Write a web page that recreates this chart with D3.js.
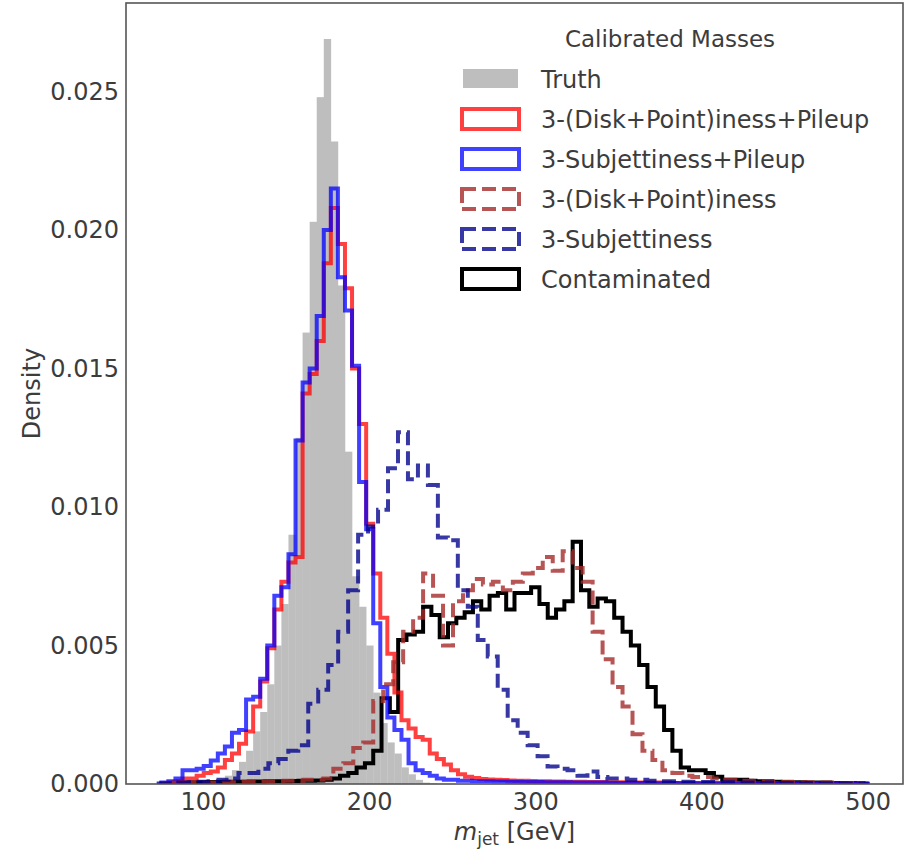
<!DOCTYPE html>
<html>
<head>
<meta charset="utf-8">
<script src="https://cdn.jsdelivr.net/npm/d3@7"></script>
<style>
body { margin: 0; background: #fff; }
text { font-family: "DejaVu Sans", "Liberation Sans", Arial, sans-serif; }
</style>
</head>
<body>
<svg id="chart" width="907" height="850"></svg>
<script>
// values are densities x 1e-3, bins given as start / width in GeV

var xTicks = [100, 200, 300, 400, 500];
var yTicks = [0, 5, 10, 15, 20, 25];
var yTickLabels = ["0.000", "0.005", "0.010", "0.015", "0.020", "0.025"];

var truthBins = {start: 75, width: 4.25};
var truth = [0, 0, 0, 0, 0.01, 0.02, 0.05, 0.08, 0.15, 0.3,
    0.5, 0.8, 1.2, 1.9, 2.6, 3.6, 5.0, 6.5, 9.0, 12.5,
    16.3, 20.3, 24.8, 26.9, 23.2, 18.0, 12.0, 7.5, 6.4, 5.0,
    3.3, 2.2, 1.5, 1.1, 0.6, 0.35, 0.15, 0.05, 0.02];

var dpPileupBins = {start: 75, width: 4.25};
var dpPileup = [0.03, 0.05, 0.1, 0.2, 0.2, 0.3, 0.4, 0.45, 0.6, 0.87,
    1.1, 1.45, 1.9, 2.8, 3.7, 4.9, 6.3, 7.3, 8.0, 8.2,
    14.1, 14.8, 16.0, 18.8, 20.8, 19.5, 17.9, 15.0, 13.0, 9.4,
    7.6, 6.0, 4.7, 3.3, 2.3, 2.0, 1.7, 1.6, 1.1, 0.9,
    0.7, 0.5, 0.35, 0.26, 0.22, 0.18, 0.16, 0.15, 0.14, 0.13,
    0.12, 0.12, 0.11, 0.1, 0.1, 0.09, 0.09, 0.08, 0.08, 0.08,
    0.07, 0.07, 0.07, 0.06, 0.06, 0.06, 0.06, 0.05, 0.05, 0.05,
    0.05, 0.05, 0.04, 0.04, 0.04, 0.04, 0.04, 0.04, 0.03, 0.03,
    0.03, 0.04, 0.03, 0.03, 0.02, 0.03, 0.03, 0.02, 0.03, 0.02,
    0.02, 0.03, 0.02, 0.02, 0.02, 0.02, 0.01, 0.02, 0.02, 0.01];

var subPileupBins = {start: 75, width: 4.25};
var subPileup = [0.05, 0.1, 0.2, 0.5, 0.5, 0.55, 0.65, 0.85, 1.1, 1.35,
    1.85, 1.95, 3.05, 3.15, 3.8, 5.0, 6.8, 7.1, 8.3, 12.4,
    14.5, 15.0, 16.9, 20.0, 21.5, 18.3, 17.1, 15.1, 10.9, 9.2,
    5.8, 3.5, 2.4, 1.95, 1.6, 0.75, 0.5, 0.4, 0.3, 0.2,
    0.15, 0.15, 0.12, 0.12, 0.1, 0.1, 0.1, 0.09, 0.09, 0.08,
    0.08, 0.07, 0.07, 0.07, 0.06, 0.06, 0.06, 0.06, 0.05, 0.05,
    0.05, 0.05, 0.05, 0.04, 0.04, 0.04, 0.04, 0.04, 0.04, 0.03,
    0.03, 0.03, 0.04, 0.03, 0.03, 0.03, 0.02, 0.03, 0.03, 0.03,
    0.03, 0.02, 0.03, 0.02, 0.02, 0.03, 0.02, 0.02, 0.02, 0.02,
    0.02, 0.02, 0.01, 0.02, 0.02, 0.01, 0.02, 0.01, 0.01, 0.01];

var dpBins = {start: 76.5, width: 6};
var dp = [0.03, 0.05, 0.05, 0.05, 0.05, 0.05, 0.06, 0.07, 0.08, 0.08,
    0.1, 0.1, 0.12, 0.12, 0.15, 0.15, 0.2, 0.55, 0.75, 1.3,
    1.5, 3.0, 3.6, 4.4, 5.5, 6.0, 7.6, 6.8, 5.0, 6.6,
    7.0, 7.4, 7.2, 7.3, 7.0, 7.3, 7.6, 7.8, 8.2, 7.7,
    8.4, 7.8, 7.3, 5.5, 4.5, 3.5, 2.8, 1.8, 1.2, 0.87,
    0.5, 0.4, 0.3, 0.25, 0.25, 0.2, 0.15, 0.15, 0.12, 0.1,
    0.1, 0.08, 0.08, 0.06, 0.06, 0.05, 0.05, 0.04, 0.04, 0.03];

var subBins = {start: 73.4, width: 6};
var sub = [0.02, 0.03, 0.05, 0.06, 0.08, 0.1, 0.15, 0.2, 0.4, 0.4,
    0.55, 0.75, 0.9, 1.2, 1.4, 2.9, 3.4, 4.3, 5.5, 7.0,
    9.0, 9.3, 9.9, 11.4, 12.7, 11.0, 11.5, 10.8, 8.9, 8.8,
    7.0, 6.4, 5.2, 4.6, 3.4, 2.3, 1.85, 1.4, 1.0, 0.63,
    0.55, 0.5, 0.3, 0.45, 0.25, 0.2, 0.2, 0.15, 0.15, 0.12,
    0.1, 0.1, 0.08, 0.08, 0.07, 0.07, 0.06, 0.06, 0.05, 0.05,
    0.04, 0.05, 0.04, 0.04, 0.03, 0.04, 0.03, 0.03, 0.03, 0.02, 0.02];

var contBins = {start: 77.5, width: 5};
var cont = [0.03, 0.05, 0.05, 0.06, 0.06, 0.07, 0.07, 0.08, 0.08, 0.08,
    0.09, 0.09, 0.1, 0.1, 0.1, 0.11, 0.12, 0.12, 0.13, 0.15,
    0.2, 0.3, 0.4, 0.6, 0.75, 1.2, 3.1, 2.6, 5.2, 5.4,
    5.5, 6.4, 6.1, 5.3, 5.8, 6.0, 6.2, 6.6, 6.3, 6.8,
    6.9, 6.3, 6.9, 6.9, 7.1, 6.5, 6.0, 6.3, 6.6, 8.75,
    7.0, 6.4, 6.7, 6.6, 6.0, 5.5, 5.0, 4.3, 3.5, 2.8,
    1.95, 1.2, 0.6, 0.5, 0.5, 0.4, 0.26, 0.15, 0.15, 0.15,
    0.12, 0.1, 0.1, 0.08, 0.07, 0.06, 0.06, 0.05, 0.05, 0.05,
    0.04, 0.04, 0.04, 0.03];

var legendTitle = "Calibrated Masses";

// ----- layout -----
var margin = {left: 126, right: 4, top: 3, bottom: 66};
var W = 907, H = 850;
var svg = d3.select("#chart");

var x = d3.scaleLinear().domain([53.75, 521.25]).range([margin.left, W - margin.right]);
var y = d3.scaleLinear().domain([0, 28.2]).range([H - margin.bottom, margin.top]);

svg.append("clipPath").attr("id", "plotclip")
    .append("rect")
    .attr("x", x.range()[0]).attr("y", y.range()[1])
    .attr("width", x.range()[1] - x.range()[0])
    .attr("height", y.range()[0] - y.range()[1]);

var plot = svg.append("g").attr("clip-path", "url(#plotclip)");

// truth: filled bars
plot.selectAll("rect.truth")
    .data(truth)
    .enter().append("rect")
    .attr("class", "truth")
    .attr("x", function(d, i) { return x(truthBins.start + i * truthBins.width); })
    .attr("width", function(d, i) {
        return x(truthBins.start + (i + 1) * truthBins.width) - x(truthBins.start + i * truthBins.width) + 0.3;
    })
    .attr("y", function(d) { return y(d); })
    .attr("height", function(d) { return y(0) - y(d); })
    .attr("fill", "#bebebe");

function stepPoints(bins, vals) {
    var pts = [[bins.start, 0]];
    vals.forEach(function(v, i) {
        pts.push([bins.start + i * bins.width, v]);
        pts.push([bins.start + (i + 1) * bins.width, v]);
    });
    pts.push([bins.start + vals.length * bins.width, 0]);
    return pts;
}

var line = d3.line()
    .x(function(d) { return x(d[0]); })
    .y(function(d) { return y(d[1]); });

var series = [
    {label: "3-(Disk+Point)iness+Pileup", bins: dpPileupBins, vals: dpPileup, color: "#ff0000", op: 0.75, dash: null, order: 1},
    {label: "3-Subjettiness+Pileup", bins: subPileupBins, vals: subPileup, color: "#0000ff", op: 0.75, dash: null, order: 2},
    {label: "3-(Disk+Point)iness", bins: dpBins, vals: dp, color: "#a52a2a", op: 0.8, dash: "14,6", order: 3},
    {label: "3-Subjettiness", bins: subBins, vals: sub, color: "#00008b", op: 0.78, dash: "14,6", order: 4},
    {label: "Contaminated", bins: contBins, vals: cont, color: "#000000", op: 1, dash: null, order: 0}
];

series.slice().sort(function(a, b) { return a.order - b.order; }).forEach(function(s) {
    plot.append("path")
        .attr("d", line(stepPoints(s.bins, s.vals)))
        .attr("fill", "none")
        .attr("stroke", s.color)
        .attr("stroke-opacity", s.op)
        .attr("stroke-width", 4)
        .attr("stroke-linejoin", "miter")
        .attr("stroke-dasharray", s.dash);
});

// ----- axes -----
var xAxis = d3.axisBottom(x).tickValues(xTicks).tickSize(0).tickPadding(9);
var yAxis = d3.axisLeft(y).tickValues(yTicks).tickSize(0).tickPadding(7)
    .tickFormat(function(d, i) { return yTickLabels[i]; });

var gx = svg.append("g").attr("transform", "translate(0," + y(0) + ")").call(xAxis);
var gy = svg.append("g").attr("transform", "translate(" + x.range()[0] + ",0)").call(yAxis);
[gx, gy].forEach(function(g) {
    g.select(".domain").remove();
    g.selectAll("text")
        .attr("font-size", 24)
        .attr("font-family", "DejaVu Sans, Liberation Sans, sans-serif")
        .attr("fill", "#3c3c3c");
});

svg.append("rect")
    .attr("x", x.range()[0]).attr("y", y.range()[1])
    .attr("width", x.range()[1] - x.range()[0])
    .attr("height", y.range()[0] - y.range()[1])
    .attr("fill", "none")
    .attr("stroke", "#555")
    .attr("stroke-width", 1.6);

// axis labels
svg.append("text")
    .attr("transform", "translate(40," + ((y.range()[0] + y.range()[1]) / 2) + ") rotate(-90)")
    .attr("text-anchor", "middle")
    .attr("font-size", 24)
    .attr("fill", "#3c3c3c")
    .text("Density");

var xl = svg.append("text")
    .attr("x", (x.range()[0] + x.range()[1]) / 2)
    .attr("y", 840)
    .attr("text-anchor", "middle")
    .attr("font-size", 24)
    .attr("fill", "#3c3c3c");
xl.append("tspan").attr("font-style", "italic").text("m");
xl.append("tspan").attr("font-size", 17).attr("dy", 5).text("jet");
xl.append("tspan").attr("dy", -5).text(" [GeV]");

// ----- legend -----
var lg = svg.append("g");
lg.append("text")
    .attr("x", 670).attr("y", 39)
    .attr("dy", "0.36em")
    .attr("text-anchor", "middle")
    .attr("font-size", 23)
    .attr("fill", "#3c3c3c")
    .text(legendTitle);

var legendItems = [{label: "Truth", truth: true}].concat(series);
legendItems.forEach(function(s, i) {
    var cy = 79 + i * 40;
    if (s.truth) {
        lg.append("rect")
            .attr("x", 463).attr("y", cy - 10)
            .attr("width", 55).attr("height", 19)
            .attr("fill", "#bebebe");
    } else {
        lg.append("rect")
            .attr("x", 462).attr("y", cy - 10)
            .attr("width", 57).attr("height", 20)
            .attr("fill", "none")
            .attr("stroke", s.color)
            .attr("stroke-opacity", s.op)
            .attr("stroke-width", 4)
            .attr("stroke-dasharray", s.dash);
    }
    lg.append("text")
        .attr("x", 541).attr("y", cy)
        .attr("dy", "0.36em")
        .attr("font-size", 24)
        .attr("fill", "#3c3c3c")
        .text(s.label);
});
</script>
</body>
</html>
